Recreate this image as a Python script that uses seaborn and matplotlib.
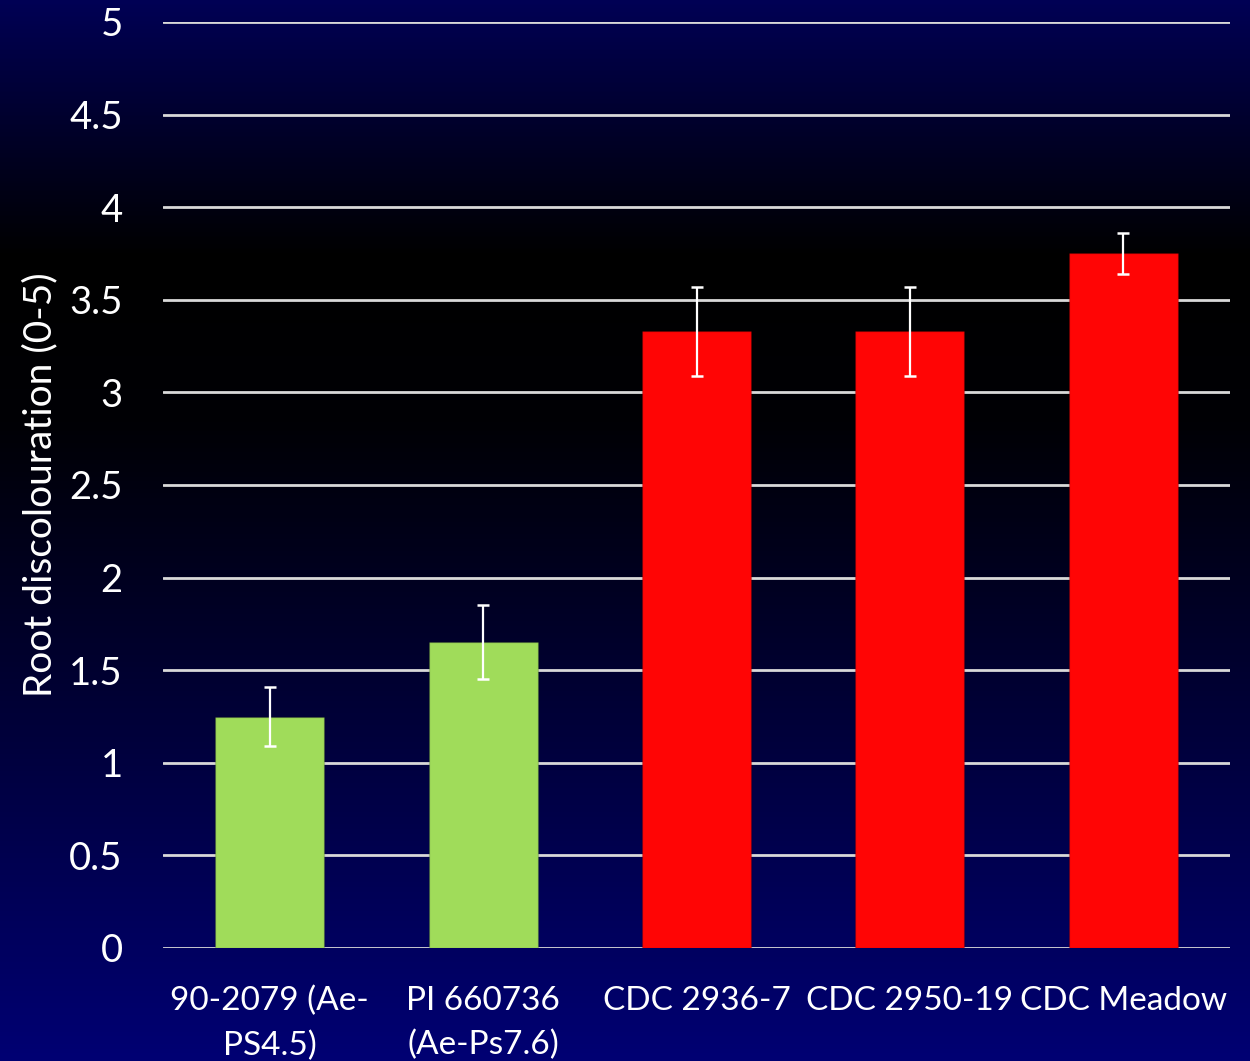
import numpy as np
import pandas as pd
import matplotlib
matplotlib.use("Agg")
import matplotlib.pyplot as plt
import seaborn as sns
from matplotlib.colors import LinearSegmentedColormap

categories = ["90-2079 (Ae-\nPS4.5)", "PI 660736\n(Ae-Ps7.6)", "CDC 2936-7", "CDC 2950-19", "CDC Meadow"]
values = [1.25, 1.65, 3.33, 3.33, 3.75]
errors = [0.16, 0.20, 0.24, 0.24, 0.11]
bar_colors = ["#a0dc5a", "#a0dc5a", "#ff0505", "#ff0505", "#ff0505"]
yticks = [0, 0.5, 1, 1.5, 2, 2.5, 3, 3.5, 4, 4.5, 5]
ylabel = "Root discolouration (0-5)"

sns.set_theme(style="white")
plt.rcParams['font.family'] = ['Lato', 'DejaVu Sans']

W, H = 1250, 1061
fig = plt.figure(figsize=(W / 100, H / 100), dpi=100)

# background gradient
bg = fig.add_axes([0, 0, 1, 1], zorder=-10)
cmap = LinearSegmentedColormap.from_list(
    "bgc", [(0.0, (0, 0, 0.33)), (0.24, (0, 0, 0.0)), (0.40, (0, 0, 0.02)), (1.0, (0, 0, 0.45))])
grad = np.linspace(0, 1, 512).reshape(-1, 1)
bg.imshow(grad, aspect="auto", cmap=cmap, extent=[0, 1, 0, 1], origin="upper")
bg.axis("off")

ax = fig.add_axes([163 / W, 1 - 948 / H, (1230 - 163) / W, (948 - 22) / H])
ax.patch.set_alpha(0)

df = pd.DataFrame({"cat": categories, "val": values})
sns.barplot(data=df, x="cat", y="val", hue="cat", palette=bar_colors, legend=False,
            width=0.51, ax=ax, zorder=3, saturation=1)
for p in ax.patches:
    p.set_edgecolor((0, 0, 0, 0.15))
    p.set_linewidth(1.0)

ax.errorbar(x=np.arange(len(categories)), y=values, yerr=errors, fmt="none",
            ecolor="white", elinewidth=1.6, capsize=4.5, capthick=1.8, zorder=5)

ax.set_ylim(0, 5)
ax.set_xlim(-0.5, len(categories) - 0.5)
ax.set_yticks(yticks)
ax.set_yticklabels([f"{t:g}" for t in yticks])
ax.set_xticks(range(len(categories)))
ax.set_xticklabels(categories, linespacing=1.6, va="top")
ax.yaxis.grid(True, color="#d9d9d9", linewidth=2, zorder=0)
ax.set_axisbelow(True)
for s in ax.spines.values():
    s.set_visible(False)
ax.tick_params(axis="both", length=0, colors="white")
ax.tick_params(axis="y", pad=29, labelsize=27.5)
ax.tick_params(axis="x", pad=27, labelsize=24)
ax.set_xlabel("")
ax.set_ylabel(ylabel, color="white", fontsize=28, labelpad=8)

fig.savefig("out.png", dpi=100)
